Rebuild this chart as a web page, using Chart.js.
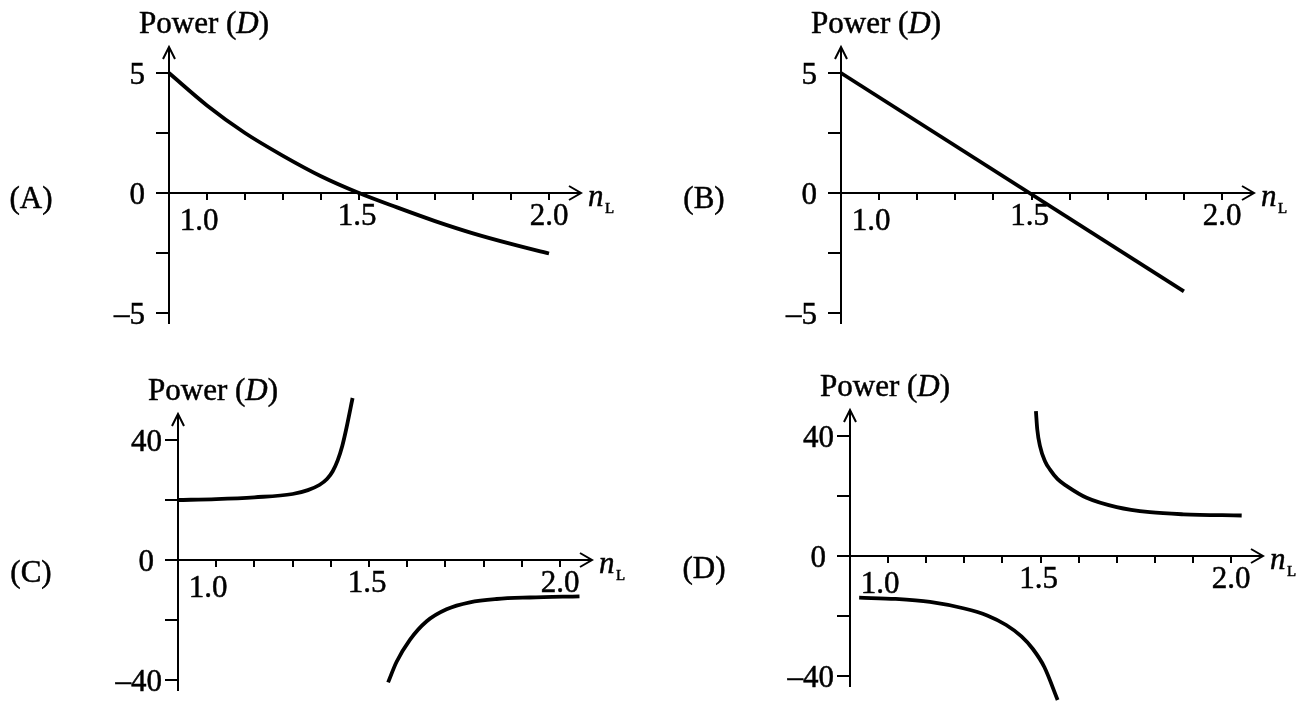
<!DOCTYPE html>
<html>
<head>
<meta charset="utf-8">
<script src="https://cdn.jsdelivr.net/npm/chart.js@4/dist/chart.umd.min.js"></script>
<style>
  html, body { margin: 0; padding: 0; background: #fff; }
  #wrap { position: relative; width: 1311px; height: 702px; overflow: hidden; background: #fff; }
  #wrap canvas { position: absolute; left: 0; top: 0; pointer-events: none; }
</style>
</head>
<body>
<div id="wrap">
  <canvas id="cA" width="1311" height="702"></canvas>
  <canvas id="cB" width="1311" height="702"></canvas>
  <canvas id="cC" width="1311" height="702"></canvas>
  <canvas id="cD" width="1311" height="702"></canvas>
</div>
<script>
// Refractive index of the liquid (n_L) and the lens power in dioptres for each option.
const nA = [1.0, 1.1, 1.2, 1.3, 1.4, 1.5, 1.6, 1.7, 1.8, 1.9, 2.0];
const pA = [5.0, 3.65, 2.5, 1.55, 0.7, 0.0, -0.6, -1.17, -1.68, -2.12, -2.52];

const nB = [1.0, 1.9];
const pB = [5.0, -4.1];

const nC1 = [1.0, 1.1, 1.2, 1.3, 1.34, 1.37, 1.39, 1.405, 1.418, 1.43, 1.441, 1.457];
const pC1 = [20.0, 20.3, 20.9, 22.0, 23.3, 25.0, 27.0, 29.6, 33.2, 38.0, 44.0, 54.0];
const nC2 = [1.55, 1.572, 1.607, 1.651, 1.703, 1.764, 1.834, 1.921, 2.051];
const pC2 = [-40.8, -34.0, -26.6, -20.4, -16.4, -14.1, -13.0, -12.5, -12.1];

const nD1 = [1.488, 1.4915, 1.4987, 1.5118, 1.525, 1.545, 1.569, 1.621, 1.70, 1.787, 1.875, 2.028];
const pD1 = [48.3, 42.2, 36.6, 31.6, 28.8, 25.6, 23.3, 19.4, 16.3, 14.6, 13.9, 13.5];
const nD2 = [1.024, 1.12, 1.21, 1.30, 1.36, 1.41, 1.45, 1.48, 1.51, 1.545];
const pD2 = [-13.9, -14.3, -15.3, -17.5, -19.8, -23.0, -26.8, -31.0, -37.0, -48.0];

// Axis ticks and their labels
const xTickValues = [1.1, 1.2, 1.3, 1.4, 1.5, 1.6, 1.7, 1.8, 1.9, 2.0];
const xLabelValues = [1.0, 1.5, 2.0];
const xTickLabels = ['1.0', '1.5', '2.0'];
const yTicksSmall = [5, 2.5, 0, -2.5, -5];
const yLabelValuesSmall = [5, 0, -5];
const yTickLabelsSmall = ['5', '0', '\u20135'];
const yTicksLarge = [40, 20, 0, -20, -40];
const yLabelValuesLarge = [40, 0, -40];
const yTickLabelsLarge = ['40', '0', '\u201340'];
const panelLetters = ['(A)', '(B)', '(C)', '(D)'];

const SERIF = "'Liberation Serif', 'Times New Roman', serif";
const FONT = '31px ' + SERIF;

// Filled text with a hairline outline so the lettering reads a little heavier
function text(ctx, str, x, y, align, font, baseline) {
  ctx.save();
  ctx.font = font;
  ctx.textAlign = align;
  ctx.textBaseline = baseline || 'alphabetic';
  ctx.lineWidth = 0.5;
  ctx.fillText(str, x, y);
  ctx.strokeText(str, x, y);
  ctx.restore();
}

function seg(ctx, x1, y1, x2, y2) {
  ctx.beginPath();
  ctx.moveTo(x1, y1);
  ctx.lineTo(x2, y2);
  ctx.stroke();
}

// Draws the arrowed axes through the origin, the ticks, labels and captions
const lensAxes = {
  id: 'lensAxes',
  beforeDatasetsDraw(chart, args, o) {
    const ctx = chart.ctx;
    const xs = chart.scales.x, ys = chart.scales.y;
    const ox = Math.round(xs.getPixelForValue(xs.min));
    const oy = Math.round(ys.getPixelForValue(0));
    const top = Math.round(ys.getPixelForValue(ys.max));
    const bottom = Math.round(ys.getPixelForValue(ys.min));
    const right = Math.round(xs.getPixelForValue(xs.max));
    const tipY = top - 26;
    const tipX = right + 32;

    ctx.save();
    ctx.strokeStyle = '#000';
    ctx.fillStyle = '#000';
    ctx.lineWidth = 2;
    ctx.lineCap = 'butt';
    ctx.lineJoin = 'miter';

    // vertical axis with open arrow head
    seg(ctx, ox, tipY, ox, bottom + 11);
    ctx.beginPath();
    ctx.moveTo(ox - 6, tipY + 12);
    ctx.lineTo(ox, tipY);
    ctx.lineTo(ox + 6, tipY + 12);
    ctx.stroke();

    // horizontal axis with open arrow head
    seg(ctx, ox - 13, oy, tipX, oy);
    ctx.beginPath();
    ctx.moveTo(tipX - 12, oy - 7);
    ctx.lineTo(tipX, oy);
    ctx.lineTo(tipX - 12, oy + 7);
    ctx.stroke();

    // y ticks on the left of the axis
    o.yTicks.forEach(v => {
      if (v === 0) return;
      const py = Math.round(ys.getPixelForValue(v));
      seg(ctx, ox - 13, py, ox, py);
    });
    // x ticks below the axis
    o.xTicks.forEach(v => {
      const px = Math.round(xs.getPixelForValue(v));
      seg(ctx, px, oy, px, oy + 7);
    });

    // y labels
    o.yLabelValues.forEach((v, i) => {
      const py = ys.getPixelForValue(v);
      const gap = v === 0 ? 24 : o.yGap;
      text(ctx, o.yLabels[i], ox - gap, py + 10.5, 'right', FONT);
    });
    // x labels
    o.xLabelValues.forEach((v, i) => {
      let px = xs.getPixelForValue(v);
      let dy = 31.5;
      if (i === 0) { px = ox + 30; dy = 36.5; }
      else if (i === 1) { px -= 2; }
      text(ctx, o.xLabels[i], px, oy + dy, 'center', FONT);
    });

    // axis caption n_L
    text(ctx, 'n', tipX + 7, oy + 13, 'left', 'italic 31px ' + SERIF);
    text(ctx, 'L', tipX + 24, oy + 20, 'left', '15px ' + SERIF);

    // vertical caption "Power (D)"
    let cx = ox - 30;
    [['Power (', FONT], ['D', 'italic ' + FONT], [')', FONT]].forEach(([t, ff]) => {
      text(ctx, t, cx, tipY - 14, 'left', ff);
      ctx.font = ff;
      cx += ctx.measureText(t).width;
    });

    // option letter
    text(ctx, o.letter, o.letterX, oy + o.letterDy, 'center', FONT, 'middle');

    ctx.restore();
  }
};

function pts(xsArr, ysArr) {
  return xsArr.map((x, i) => ({ x: x, y: ysArr[i] }));
}

function makePanel(id, series, yMin, yMax, pad, axisCfg) {
  new Chart(document.getElementById(id), {
    type: 'line',
    data: {
      datasets: series.map(s => ({
        data: s,
        borderColor: '#000',
        borderWidth: 3.8,
        borderCapStyle: 'butt',
        pointRadius: 0,
        fill: false,
        cubicInterpolationMode: 'monotone',
        clip: false
      }))
    },
    options: {
      responsive: false,
      animation: false,
      devicePixelRatio: 1,
      events: [],
      layout: { padding: pad },
      plugins: { legend: { display: false }, tooltip: { enabled: false }, lensAxes: axisCfg },
      scales: {
        x: { type: 'linear', min: 1.0, max: 2.0, display: false },
        y: { type: 'linear', min: yMin, max: yMax, display: false }
      }
    },
    plugins: [lensAxes]
  });
}

const smallAxis = { yTicks: yTicksSmall, yLabelValues: yLabelValuesSmall, yLabels: yTickLabelsSmall, yGap: 24,
                    xTicks: xTickValues, xLabelValues: xLabelValues, xLabels: xTickLabels };
const largeAxis = { yTicks: yTicksLarge, yLabelValues: yLabelValuesLarge, yLabels: yTickLabelsLarge, yGap: 16,
                    xTicks: xTickValues, xLabelValues: xLabelValues, xLabels: xTickLabels };

makePanel('cA', [pts(nA, pA)], -5, 5,
  { left: 169, right: 1311 - 549, top: 73, bottom: 702 - 313 },
  Object.assign({ letter: panelLetters[0], letterX: 31, letterDy: 7 }, smallAxis));
makePanel('cB', [pts(nB, pB)], -5, 5,
  { left: 841, right: 1311 - 1222, top: 73, bottom: 702 - 313 },
  Object.assign({ letter: panelLetters[1], letterX: 704, letterDy: 7 }, smallAxis));
makePanel('cC', [pts(nC1, pC1), pts(nC2, pC2)], -40, 40,
  { left: 178, right: 1311 - 560, top: 440, bottom: 702 - 680 },
  Object.assign({ letter: panelLetters[2], letterX: 31, letterDy: 14 }, largeAxis));
makePanel('cD', [pts(nD1, pD1), pts(nD2, pD2)], -40, 40,
  { left: 850, right: 1311 - 1231, top: 436, bottom: 702 - 676 },
  Object.assign({ letter: panelLetters[3], letterX: 704, letterDy: 14 }, largeAxis));
</script>
</body>
</html>
